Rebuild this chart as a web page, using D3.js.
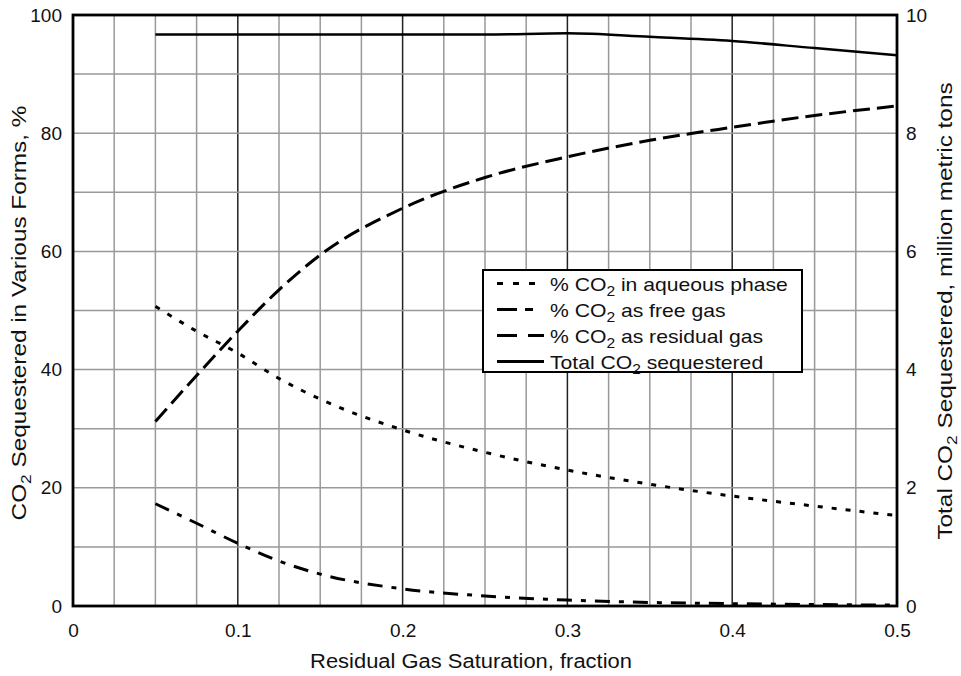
<!DOCTYPE html>
<html>
<head>
<meta charset="utf-8">
<script src="https://cdn.jsdelivr.net/npm/d3@7"></script>
<style>
  body { margin: 0; background: #fff; }
  text { font-family: "Liberation Sans", Arial, Helvetica, sans-serif; fill: #111; }
</style>
</head>
<body>
<script>
const W = 961, H = 676;
const plotLeft = 73, plotTop = 15, plotRight = 897, plotBottom = 606;

// residual gas saturation (fraction)
const sat = [0.05, 0.075, 0.1, 0.125, 0.15, 0.2, 0.25, 0.3, 0.35, 0.4, 0.45, 0.5];
const aqueous = [50.7, 46.5, 42.8, 38.5, 35, 29.8, 26, 23, 20.6, 18.6, 16.9, 15.3];
const freeGas = [17.3, 14, 10.6, 7.6, 5.4, 2.9, 1.7, 1.0, 0.6, 0.4, 0.25, 0.15];
const residual = [31.2, 39, 46.5, 53.5, 59.4, 67.3, 72.5, 76, 78.8, 81, 83, 84.6];
const total = [9.67, 9.67, 9.67, 9.67, 9.67, 9.67, 9.67, 9.69, 9.63, 9.56, 9.44, 9.32];

const xTicks = [0, 0.1, 0.2, 0.3, 0.4, 0.5];
const yTicks = [0, 20, 40, 60, 80, 100];
const y2Ticks = [0, 2, 4, 6, 8, 10];

const x = d3.scaleLinear().domain([0, 0.5]).range([plotLeft, plotRight]);
const y = d3.scaleLinear().domain([0, 100]).range([plotBottom, plotTop]);
const y2 = d3.scaleLinear().domain([0, 10]).range([plotBottom, plotTop]);

const svg = d3.select("body").append("svg")
    .attr("width", W)
    .attr("height", H);

// grid
const minorX = d3.range(0, 0.5001, 0.025);
const minorY = d3.range(0, 100.01, 10);
svg.append("g").selectAll("line")
    .data(minorX).enter().append("line")
    .attr("x1", d => x(d)).attr("x2", d => x(d))
    .attr("y1", plotTop).attr("y2", plotBottom)
    .attr("stroke", d => Math.abs(d * 10 - Math.round(d * 10)) < 1e-6 ? "#222" : "#999")
    .attr("stroke-width", 1.5);
svg.append("g").selectAll("line")
    .data(minorY).enter().append("line")
    .attr("x1", plotLeft).attr("x2", plotRight)
    .attr("y1", d => y(d)).attr("y2", d => y(d))
    .attr("stroke", "#999")
    .attr("stroke-width", 1.5);

// frame
svg.append("rect")
    .attr("x", plotLeft).attr("y", plotTop)
    .attr("width", plotRight - plotLeft).attr("height", plotBottom - plotTop)
    .attr("fill", "none").attr("stroke", "#000").attr("stroke-width", 2.8);

// axes (labels only, ticks hidden)
const fs = "19px";
const ax = svg.append("g").attr("transform", `translate(0,${plotBottom})`)
    .call(d3.axisBottom(x).tickValues(xTicks).tickSize(0).tickPadding(18)
        .tickFormat(d => d === 0 ? "0" : d3.format(".1f")(d)));
const ay = svg.append("g").attr("transform", `translate(${plotLeft},0)`)
    .call(d3.axisLeft(y).tickValues(yTicks).tickSize(0).tickPadding(11));
const ay2 = svg.append("g").attr("transform", `translate(${plotRight},0)`)
    .call(d3.axisRight(y2).tickValues(y2Ticks).tickSize(0).tickPadding(9));
[ax, ay, ay2].forEach(g => {
    g.select(".domain").remove();
    g.selectAll("text").style("font-size", fs).attr("fill", "#111")
        .style("font-family", '"Liberation Sans", Arial, sans-serif');
});

// lines
const line = vals => d3.line()
    .x((d, i) => x(sat[i]))
    .y(d => y(d))
    .curve(d3.curveMonotoneX)(vals);
const line2 = d3.line()
    .x((d, i) => x(sat[i]))
    .y(d => y2(d))
    .curve(d3.curveMonotoneX);

const styles = {
    aqueous: "5,9",
    free: "15,9,5,9",
    residual: "17,7"
};

svg.append("path").attr("d", line(aqueous))
    .attr("fill", "none").attr("stroke", "#000").attr("stroke-width", 3)
    .attr("stroke-dasharray", styles.aqueous);
svg.append("path").attr("d", line(freeGas))
    .attr("fill", "none").attr("stroke", "#000").attr("stroke-width", 3)
    .attr("stroke-dasharray", styles.free);
svg.append("path").attr("d", line(residual))
    .attr("fill", "none").attr("stroke", "#000").attr("stroke-width", 3)
    .attr("stroke-dasharray", styles.residual);
svg.append("path").attr("d", line2(total))
    .attr("fill", "none").attr("stroke", "#000").attr("stroke-width", 2.5);

// stretch a text horizontally so it spans the width
function fit(sel, target) {
    const w = sel.node().getComputedTextLength();
    return target / w;
}

// legend
const legendItems = [
    { pre: "% CO", post: " in aqueous phase", dash: "6,10" },
    { pre: "% CO", post: " as free gas", dash: "20,8,8,20" },
    { pre: "% CO", post: " as residual gas", dash: "20,11" },
    { pre: "Total CO", post: " sequestered", dash: null }
];
const lg = svg.append("g");
lg.append("rect")
    .attr("x", 483).attr("y", 270)
    .attr("width", 319).attr("height", 102)
    .attr("fill", "#fff").attr("stroke", "#000").attr("stroke-width", 2);
let legendScale = null;
legendItems.forEach((it, i) => {
    const cy = 283.5 + i * 26;
    lg.append("line")
        .attr("x1", 497).attr("x2", 544)
        .attr("y1", cy).attr("y2", cy)
        .attr("stroke", "#000").attr("stroke-width", 3)
        .attr("stroke-dasharray", it.dash);
    const t = lg.append("text")
        .style("font-size", "19px");
    t.append("tspan").text(it.pre);
    t.append("tspan").attr("dy", 5).style("font-size", "14px").text("2");
    t.append("tspan").attr("dy", -5).text(it.post);
    if (legendScale === null) legendScale = fit(t, 238);
    t.attr("transform", `translate(550,${cy + 7}) scale(${legendScale},1)`);
});

// axis titles
const bt = svg.append("text")
    .attr("text-anchor", "middle").style("font-size", "21px")
    .text("Residual Gas Saturation, fraction");
bt.attr("transform", `translate(471,668) scale(${fit(bt, 322)},1)`);

const lt = svg.append("text")
    .attr("text-anchor", "middle").style("font-size", "21px");
lt.append("tspan").text("CO");
lt.append("tspan").attr("dy", 5).style("font-size", "15px").text("2");
lt.append("tspan").attr("dy", -5).text(" Sequestered in Various Forms, %");
const titleScale = fit(lt, 415);
lt.attr("transform", `translate(26,313) rotate(-90) scale(${titleScale},1)`);

const rt = svg.append("text")
    .attr("text-anchor", "middle").style("font-size", "21px");
rt.append("tspan").text("Total CO");
rt.append("tspan").attr("dy", 5).style("font-size", "15px").text("2");
rt.append("tspan").attr("dy", -5).text(" Sequestered, million metric  tons");
rt.attr("transform", `translate(952,311) rotate(-90) scale(${titleScale},1)`);
</script>
</body>
</html>
